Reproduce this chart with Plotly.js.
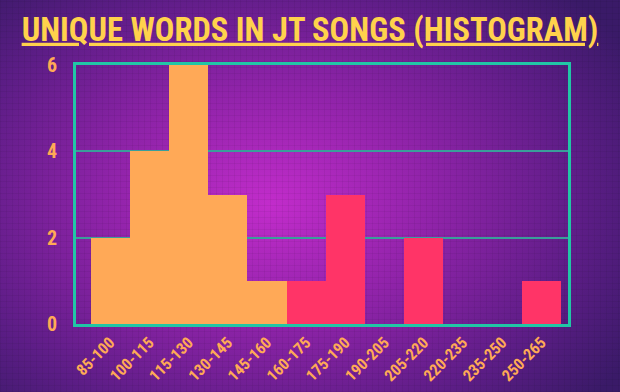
<!DOCTYPE html>
<html>
<head>
<meta charset="utf-8">
<script src="https://cdn.plot.ly/plotly-3.0.1.min.js"></script>
<style>
html,body{margin:0;padding:0;width:620px;height:392px;overflow:hidden;}
body{
  background:
    repeating-linear-gradient(0deg, rgba(0,0,0,0.05) 0px, rgba(0,0,0,0.05) 1px, transparent 1px, transparent 6px),
    repeating-linear-gradient(90deg, rgba(0,0,0,0.05) 0px, rgba(0,0,0,0.05) 1px, transparent 1px, transparent 6px),
    radial-gradient(ellipse 420px 300px at 270px 205px, #c22ccb 0%, #8e23a8 40%, #5c1d86 75%, #3a1a68 100%);
}
#chart{width:620px;height:392px;}
</style>
</head>
<body>
<div id="chart"></div>
<script>
const categories = ["85-100","100-115","115-130","130-145","145-160","160-175","175-190","190-205","205-220","220-235","235-250","250-265"];
const counts = [2,4,6,3,1,1,3,0,2,0,0,1];
const groups = ["low","low","low","low","low","high","high","high","high","high","high","high"];
const yTicks = [0,2,4,6];

const colorMap = {low:"#ffa957", high:"#ff3467"};
const FONT = "Roboto Condensed";

const trace = {
  type:"bar",
  x: categories.map((c,i)=>i),
  y: counts,
  marker:{color: groups.map(g=>colorMap[g]), line:{width:0}},
  width:1,
  hoverinfo:"none"
};

const layout = {
  width:620, height:392,
  paper_bgcolor:"rgba(0,0,0,0)",
  plot_bgcolor:"rgba(0,0,0,0)",
  margin:{l:76, r:52, t:65, b:68},
  showlegend:false,
  bargap:0,
  title:{
    text:"<b><u>UNIQUE WORDS IN JT SONGS (HISTOGRAM)</u></b>",
    font:{family:FONT, size:32.5, color:"#ffd24c"},
    x:0.5, xanchor:"center", y:0.925, yanchor:"middle"
  },
  xaxis:{
    range:[-0.87, 11.68],
    tickmode:"array",
    tickvals: categories.map((c,i)=>i),
    ticktext: categories,
    tickangle:-45,
    tickfont:{family:FONT, size:16, color:"#ffaa55", weight:"bold"},
    showgrid:false,
    zeroline:false,
    showline:true, linecolor:"#21c6a6", linewidth:3, mirror:true,
    ticks:"", layer:"below traces",
    fixedrange:true
  },
  yaxis:{
    range:[0,6],
    tickmode:"array",
    tickvals:yTicks,
    ticktext:yTicks.map(String),
    tickfont:{family:FONT, size:20, color:"#ffaa55", weight:"bold"},
    showgrid:true, gridcolor:"#3a9e9a", gridwidth:2,
    zeroline:false,
    showline:true, linecolor:"#21c6a6", linewidth:3, mirror:true,
    ticks:"", ticklabelstandoff:12, layer:"below traces",
    fixedrange:true
  },
  font:{family:FONT}
};

Plotly.newPlot("chart",[trace],layout,{staticPlot:true, displayModeBar:false});
</script>
</body>
</html>
